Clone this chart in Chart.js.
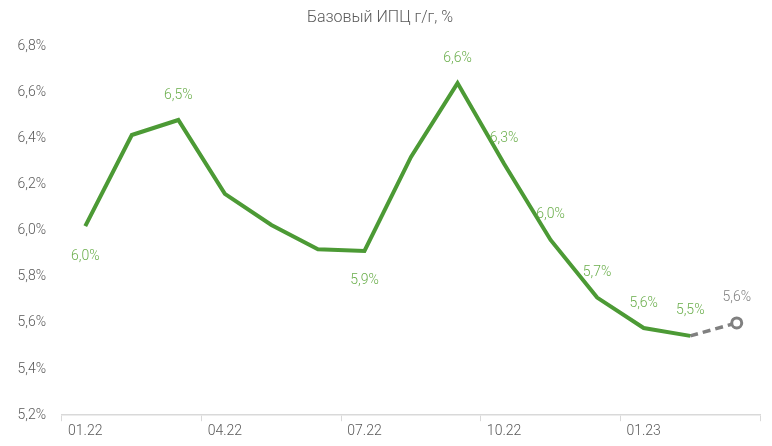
<!DOCTYPE html>
<html>
<head>
<meta charset="utf-8">
<script src="https://cdn.jsdelivr.net/npm/chart.js@4/dist/chart.umd.min.js"></script>
<style>
  html, body { margin: 0; padding: 0; background: #fff; }
  #wrap { width: 772px; height: 446px; }
</style>
</head>
<body>
<div id="wrap"><canvas id="cpi"></canvas></div>
<script>
const months = ['01.22', '02.22', '03.22', '04.22', '05.22', '06.22', '07.22', '08.22',
  '09.22', '10.22', '11.22', '12.22', '01.23', '02.23', '03.23'];
const actual = [6.02, 6.415, 6.48, 6.16, 6.025, 5.92, 5.912, 6.32, 6.64, 6.29, 5.96, 5.71, 5.578, 5.544, null];
const forecast = [null, null, null, null, null, null, null, null, null, null, null, null, null, 5.544, 5.60];
// which points get a value label, and where
const labelSide = ['below', null, 'above', null, null, null, 'below', null, 'above', 'above', 'above', 'above', 'above', 'above', 'above'];

const FONT = 'Roboto, "Liberation Sans Narrow", sans-serif';
const GREEN = '#4c9a35';
const LABEL_GREEN = '#6aae4b';
const GREY = '#808080';

const fmt = (v) => v.toFixed(1).replace('.', ',') + '%';

const valueLabels = {
  id: 'valueLabels',
  afterDatasetsDraw(chart) {
    const ctx = chart.ctx;
    ctx.save();
    ctx.font = '300 14px ' + FONT;
    ctx.textAlign = 'center';
    ctx.textBaseline = 'middle';
    const metaA = chart.getDatasetMeta(0);
    const metaF = chart.getDatasetMeta(1);
    labelSide.forEach((side, i) => {
      if (!side) return;
      const isForecast = actual[i] == null;
      const pt = isForecast ? metaF.data[i] : metaA.data[i];
      const v = isForecast ? forecast[i] : actual[i];
      ctx.fillStyle = isForecast ? GREY : LABEL_GREEN;
      const dy = side === 'above' ? -25 : 30;
      ctx.fillText(fmt(v), pt.x, pt.y + dy);
    });
    ctx.restore();
  }
};

new Chart(document.getElementById('cpi'), {
  type: 'line',
  data: {
    labels: months,
    datasets: [
      {
        data: actual,
        borderColor: GREEN,
        borderWidth: 4,
        pointRadius: 0,
        tension: 0,
        spanGaps: false,
      },
      {
        data: forecast,
        borderColor: GREY,
        borderWidth: 3.5,
        borderDash: [8, 5],
        pointRadius: (c) => (c.dataIndex === forecast.length - 1 ? 5 : 0),
        pointBorderWidth: 3,
        pointBorderColor: GREY,
        pointBackgroundColor: '#fff',
        tension: 0,
      },
    ],
  },
  options: {
    responsive: true,
    maintainAspectRatio: false,
    animation: false,
    layout: { padding: { left: 0, right: 12, top: 0, bottom: 4 } },
    plugins: {
      legend: { display: false },
      tooltip: { enabled: false },
      title: {
        display: true,
        text: 'Базовый ИПЦ г/г, %',
        color: '#595959',
        font: { family: FONT, size: 16, weight: '300' },
        padding: { top: 8, bottom: 19 },
      },
    },
    scales: {
      x: {
        offset: true,
        border: { display: true, color: '#d9d9d9', width: 1.5 },
        grid: {
          offset: true,
          drawOnChartArea: false,
          drawTicks: true,
          tickLength: 6,
          color: (c) => (c.index === undefined || c.index % 3 === 0 ? '#d9d9d9' : 'rgba(0,0,0,0)'),
        },
        ticks: {
          autoSkip: false,
          maxRotation: 0,
          color: '#595959',
          font: { family: FONT, size: 14, weight: '300' },
          padding: 2,
          callback: (v, i) => (i % 3 === 0 ? months[i] : ''),
        },
      },
      y: {
        min: 5.2,
        max: 6.8,
        border: { display: false },
        grid: { display: false },
        ticks: {
          stepSize: 0.2,
          color: '#595959',
          font: { family: FONT, size: 14, weight: '300' },
          padding: 8,
          callback: (v) => fmt(v),
        },
        afterFit: (scale) => { scale.width = 62; },
      },
    },
  },
  plugins: [valueLabels],
});
</script>
</body>
</html>
